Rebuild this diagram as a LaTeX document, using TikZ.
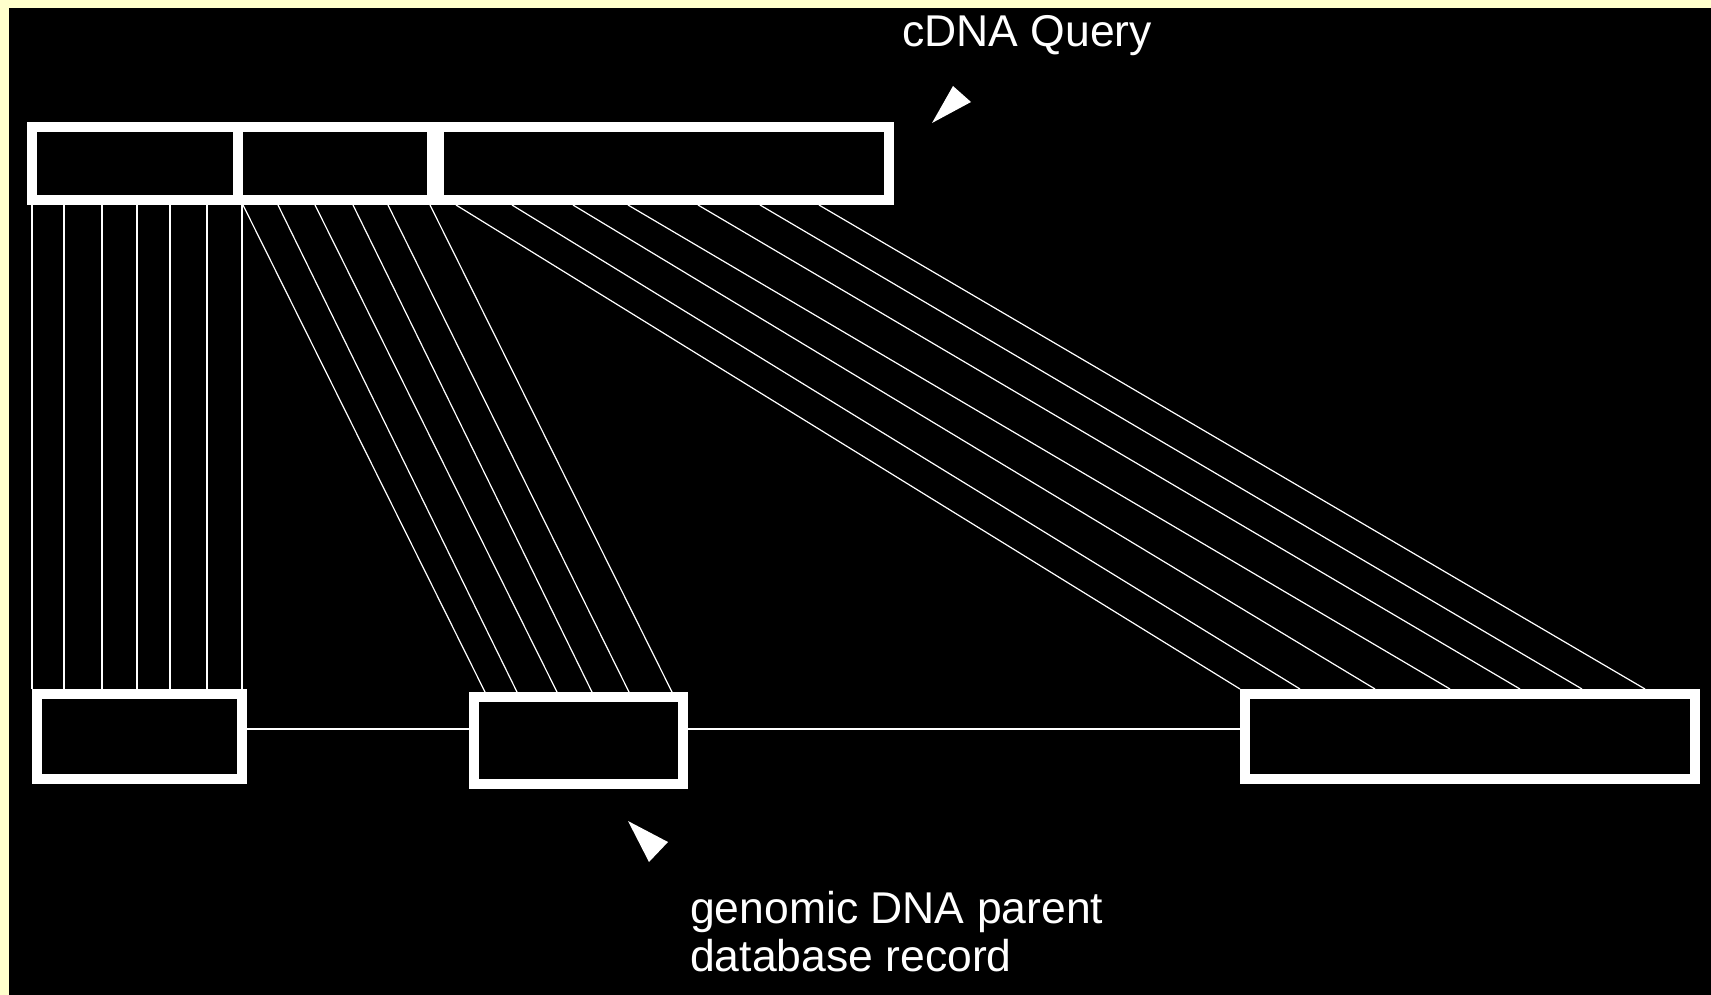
\documentclass[tikz,border=0pt]{standalone}
\usepackage{fontspec}
\setmainfont{Liberation Sans}
\definecolor{cream}{HTML}{FFFFCC}
\begin{document}
\begin{tikzpicture}[x=1pt,y=-1pt,
  seg/.style={draw=white, fill=black, line width=10pt, inner sep=0pt, rectangle},
  link/.style={draw=white, line width=1.2pt},
  lbl/.style={text=white, inner sep=0pt, anchor=base west, font=\fontsize{44.5}{48}\selectfont},
  tipmark/.style={fill=white}]
\useasboundingbox (0,0) rectangle (1711,994);
\fill[cream] (-5,-5) rectangle (1720,1000);
\fill[black] (9,8) rectangle (1720,1000);
% cDNA query segments
\node[seg, minimum width=206pt, minimum height=73pt] (q1) at (135,163.5) {};
\node[seg, minimum width=194pt, minimum height=73pt] (q2) at (335,163.5) {};
\node[seg, minimum width=450pt, minimum height=73pt] (q3) at (664,163.5) {};
% genomic segments
\node[seg, minimum width=205pt, minimum height=85pt] (g1) at (139.5,736.5) {};
\node[seg, minimum width=209pt, minimum height=87pt] (g2) at (578.5,740.5) {};
\node[seg, minimum width=450pt, minimum height=85pt] (g3) at (1470,736.5) {};
% intron lines
\draw[link] (g1.east |- 0,729) -- (g2.west |- 0,729);
\draw[link] (g2.east |- 0,729) -- (g3.west |- 0,729);
% alignment lines
\foreach \a in {32,64,102,137,170,207,242}
  \draw[link] (\a,0 |- q1.south) -- (\a,0 |- g1.north);
\foreach \a/\b in {243/485,278/517,315/557,353/592,388/629,430/672}
  \draw[link] (\a,0 |- q2.south) -- (\b,0 |- g2.north);
\foreach \a/\b in {456/1240,512/1300,573/1375,628/1450,698/1520,760/1582,819/1645}
  \draw[link] (\a,0 |- q3.south) -- (\b,0 |- g3.north);
% labels
\node[lbl] (lq) at (902,46) {cDNA Query};
\node[lbl] (lg1) at (690,923) {genomic DNA parent};
\node[lbl] (lg2) at (690,971) {database record};
% pointer marks
\fill[tipmark] (932,123) -- (953,86) -- (971,102) -- cycle;
\fill[tipmark] (628,821) -- (668,842) -- (649,862) -- cycle;
\end{tikzpicture}
\end{document}
